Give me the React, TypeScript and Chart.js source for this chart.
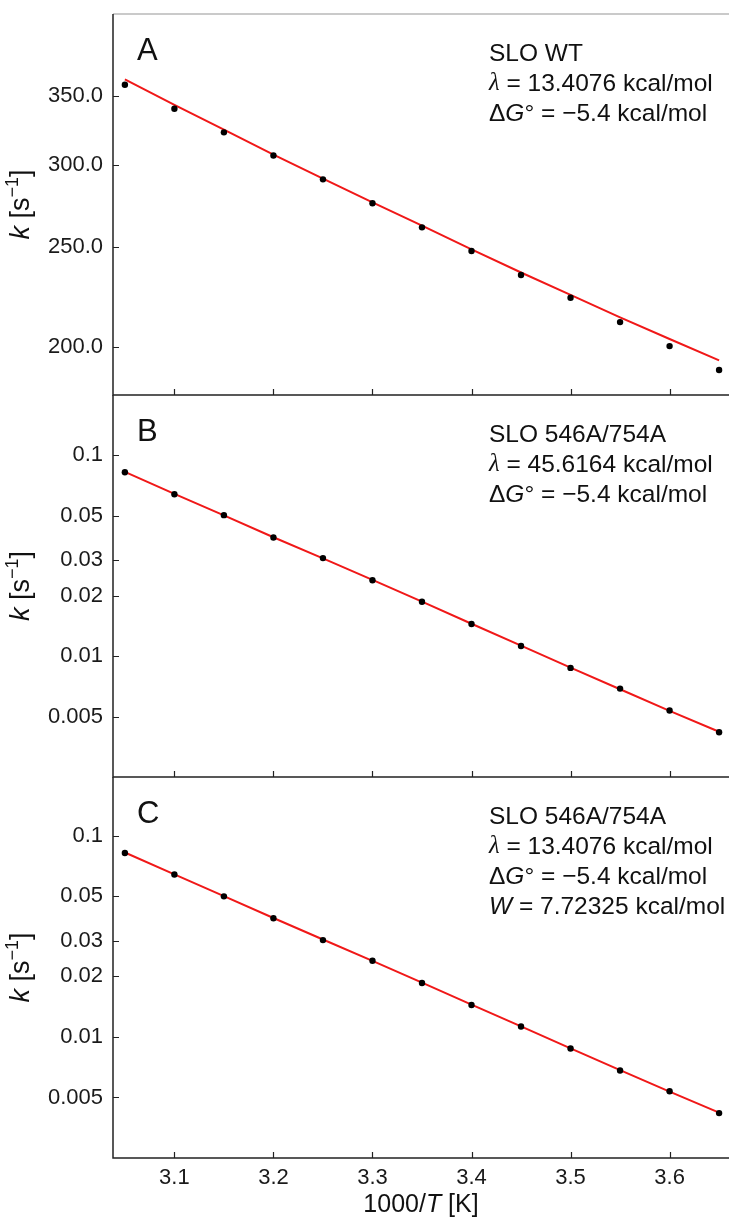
import React, { useEffect, useRef } from "react";
import { Chart, registerables } from "chart.js";

Chart.register(...registerables);

// ---------------- data ----------------
const X_VALUES = [3.05, 3.1, 3.15, 3.2, 3.25, 3.3, 3.35, 3.4, 3.45, 3.5, 3.55, 3.6, 3.65];
const X_TICKS = [3.1, 3.2, 3.3, 3.4, 3.5, 3.6];
const X_TICK_LABELS = ["3.1", "3.2", "3.3", "3.4", "3.5", "3.6"];
const X_MIN = 3.038;
const X_MAX = 3.66;

const A_POINTS = [358.7, 340.0, 322.6, 306.4, 290.5, 275.4, 261.0, 247.6, 234.7, 223.1, 211.3, 200.3, 189.9];
const A_FIT = [363, 343, 324.5, 307, 291, 276, 262, 248.5, 236, 224.5, 213.5, 203.5, 194];
const A_TICKS = [200, 250, 300, 350];
const A_TICK_LABELS = ["200.0", "250.0", "300.0", "350.0"];
const A_RANGE = [179.6, 420];

const B_POINTS = [0.0825, 0.0641, 0.0504, 0.039, 0.0308, 0.0239, 0.01867, 0.01446, 0.01124, 0.00874, 0.00689, 0.00536, 0.00418];
const B_FIT = [0.0828, 0.0643, 0.0503, 0.0391, 0.0307, 0.024, 0.01868, 0.0145, 0.01128, 0.00877, 0.00684, 0.00534, 0.0042];
const C_POINTS = [0.0821, 0.0642, 0.05, 0.0389, 0.0303, 0.0239, 0.01855, 0.01442, 0.01126, 0.00876, 0.00681, 0.00537, 0.00418];
const C_FIT = [0.0826, 0.0643, 0.0501, 0.039, 0.0305, 0.0239, 0.01862, 0.01448, 0.01128, 0.00877, 0.00684, 0.00534, 0.0042];
const BC_TICKS = [0.005, 0.01, 0.02, 0.03, 0.05, 0.1];
const BC_TICK_LABELS = ["0.005", "0.01", "0.02", "0.03", "0.05", "0.1"];
const B_RANGE = [0.0025, 0.2];
const C_RANGE = [0.0025, 0.196];

type Seg = { t: string; it?: boolean; serif?: boolean; sup?: boolean };

const NOTE_A: Seg[][] = [
  [{ t: "SLO WT" }],
  [{ t: "λ", it: true, serif: true }, { t: " = 13.4076 kcal/mol" }],
  [{ t: "Δ" }, { t: "G", it: true }, { t: "° = −5.4 kcal/mol" }],
];
const NOTE_B: Seg[][] = [
  [{ t: "SLO 546A/754A" }],
  [{ t: "λ", it: true, serif: true }, { t: " = 45.6164 kcal/mol" }],
  [{ t: "Δ" }, { t: "G", it: true }, { t: "° = −5.4 kcal/mol" }],
];
const NOTE_C: Seg[][] = [
  [{ t: "SLO 546A/754A" }],
  [{ t: "λ", it: true, serif: true }, { t: " = 13.4076 kcal/mol" }],
  [{ t: "Δ" }, { t: "G", it: true }, { t: "° = −5.4 kcal/mol" }],
  [{ t: "W", it: true }, { t: " = 7.72325 kcal/mol" }],
];
const Y_TITLE: Seg[] = [{ t: "k", it: true }, { t: " [s" }, { t: "−1", sup: true }, { t: "]" }];
const X_TITLE: Seg[] = [{ t: "1000/" }, { t: "T", it: true }, { t: " [K]" }];

// ---------------- drawing helpers ----------------
const SANS = "'Liberation Sans', Arial, Helvetica, sans-serif";
const SERIF = "'Liberation Serif', 'Times New Roman', serif";
const W = 729;
const H = 1218;
const OFF = 60; // canvases start above the page so the top padding is never overridden

function segFont(s: Seg, size: number) {
  const sz = s.sup ? Math.round(size * 0.66) : size;
  return `${s.it ? "italic " : ""}${sz}px ${s.serif ? SERIF : SANS}`;
}
function richWidth(ctx: CanvasRenderingContext2D, segs: Seg[], size: number) {
  let w = 0;
  for (const s of segs) {
    ctx.font = segFont(s, size);
    w += ctx.measureText(s.t).width;
  }
  return w;
}
function drawRich(ctx: CanvasRenderingContext2D, segs: Seg[], x: number, y: number, size: number, baseline: CanvasTextBaseline = "middle") {
  ctx.textAlign = "left";
  ctx.textBaseline = baseline;
  let cx = x;
  for (const s of segs) {
    ctx.font = segFont(s, size);
    const dy = s.sup ? -size * 0.4 : 0;
    ctx.fillText(s.t, cx, y + dy);
    cx += ctx.measureText(s.t).width;
  }
}

type Panel = {
  points: number[];
  fit: number[];
  range: number[];
  ticks: number[];
  tickLabels: string[];
  letter: string;
  note: Seg[][];
  top: number;
  bottom: number;
  showX: boolean;
  grayTop: boolean;
};

const PANELS: Panel[] = [
  { points: A_POINTS, fit: A_FIT, range: A_RANGE, ticks: A_TICKS, tickLabels: A_TICK_LABELS, letter: "A", note: NOTE_A, top: 14, bottom: 395, showX: false, grayTop: true },
  { points: B_POINTS, fit: B_FIT, range: B_RANGE, ticks: BC_TICKS, tickLabels: BC_TICK_LABELS, letter: "B", note: NOTE_B, top: 395, bottom: 777, showX: false, grayTop: false },
  { points: C_POINTS, fit: C_FIT, range: C_RANGE, ticks: BC_TICKS, tickLabels: BC_TICK_LABELS, letter: "C", note: NOTE_C, top: 777, bottom: 1158, showX: true, grayTop: false },
];

function makeChart(canvas: HTMLCanvasElement, p: Panel) {
  const decor = {
    id: "decor" + p.letter,
    afterDraw(chart: any) {
      const ctx: CanvasRenderingContext2D = chart.ctx;
      const a = chart.chartArea;
      const xs = chart.scales.x;
      const ys = chart.scales.y;
      ctx.save();
      if (p.grayTop) {
        ctx.strokeStyle = "#b8b8b8";
        ctx.lineWidth = 1.5;
        ctx.beginPath();
        ctx.moveTo(a.left, a.top);
        ctx.lineTo(a.right, a.top);
        ctx.stroke();
      }
      ctx.strokeStyle = "#222";
      ctx.lineWidth = 1.5;
      ctx.beginPath();
      ctx.moveTo(a.left, a.top);
      ctx.lineTo(a.left, a.bottom);
      ctx.moveTo(a.left - 0.75, a.bottom);
      ctx.lineTo(a.right, a.bottom);
      ctx.stroke();
      // inward ticks
      ctx.lineWidth = 1.2;
      ctx.beginPath();
      for (const v of X_TICKS) {
        const px = Math.round(xs.getPixelForValue(v)) + 0.5;
        ctx.moveTo(px, a.bottom);
        ctx.lineTo(px, a.bottom - 6);
      }
      for (const v of p.ticks) {
        const py = Math.round(ys.getPixelForValue(v)) + 0.5;
        ctx.moveTo(a.left, py);
        ctx.lineTo(a.left + 6, py);
      }
      ctx.stroke();
      // panel letter
      ctx.fillStyle = "#111";
      ctx.font = `31px ${SANS}`;
      ctx.textAlign = "left";
      ctx.textBaseline = "middle";
      ctx.fillText(p.letter, a.left + 24, a.top + 37);
      // annotation block
      p.note.forEach((line, i) => {
        drawRich(ctx, line, a.left + 376, a.top + 40 + i * 30, 24.5);
      });
      // y title (rotated)
      const cy = (a.top + a.bottom) / 2;
      ctx.save();
      ctx.translate(29, cy);
      ctx.rotate(-Math.PI / 2);
      const tw = richWidth(ctx, Y_TITLE, 27);
      drawRich(ctx, Y_TITLE, -tw / 2, 0, 27, "alphabetic");
      ctx.restore();
      // x title
      if (p.showX) {
        const xw = richWidth(ctx, X_TITLE, 25);
        drawRich(ctx, X_TITLE, (a.left + a.right) / 2 - xw / 2, a.bottom + 47, 25);
      }
      ctx.restore();
    },
  };

  return new Chart(canvas, {
    type: "scatter",
    data: {
      datasets: [
        {
          label: "data",
          data: X_VALUES.map((x, i) => ({ x, y: p.points[i] })),
          backgroundColor: "#000",
          borderColor: "#000",
          pointRadius: 3.2,
          pointBorderWidth: 0,
          showLine: false,
          order: 0,
        },
        {
          label: "fit",
          data: X_VALUES.map((x, i) => ({ x, y: p.fit[i] })),
          borderColor: "#f01818",
          borderWidth: 2,
          pointRadius: 0,
          showLine: true,
          tension: 0,
          order: 1,
        },
      ],
    },
    options: {
      animation: false,
      responsive: false,
      maintainAspectRatio: false,
      devicePixelRatio: 1,
      events: [],
      layout: { autoPadding: false, padding: { top: p.top + OFF, bottom: p.showX ? 0 : H - p.bottom, left: 0, right: 0 } },
      plugins: { legend: { display: false }, tooltip: { enabled: false } },
      scales: {
        x: {
          type: "linear",
          min: X_MIN,
          max: X_MAX,
          bounds: "data",
          display: p.showX,
          position: "bottom",
          grid: { display: false, drawTicks: false },
          border: { display: false },
          ticks: {
            autoSkip: false,
            maxRotation: 0,
            padding: 7,
            color: "#1a1a1a",
            font: { family: SANS, size: 22 },
            callback: (_v: any, i: number) => X_TICK_LABELS[i],
          },
          afterBuildTicks: (s: any) => {
            s.ticks = X_TICKS.map((v) => ({ value: v }));
          },
          afterFit: (s: any) => {
            if (p.showX) s.height = H - p.bottom;
          },
        },
        y: {
          type: "logarithmic",
          min: p.range[0],
          max: p.range[1],
          bounds: "data",
          position: "left",
          grid: { display: false, drawTicks: false },
          border: { display: false },
          ticks: {
            autoSkip: false,
            padding: 10,
            color: "#1a1a1a",
            font: { family: SANS, size: 22 },
            callback: (_v: any, i: number) => p.tickLabels[i],
          },
          afterBuildTicks: (s: any) => {
            s.ticks = p.ticks.map((v) => ({ value: v }));
          },
          afterFit: (s: any) => {
            s.width = 113;
          },
        },
      },
    } as any,
    plugins: [decor],
  });
}

export default function App() {
  const r0 = useRef<HTMLCanvasElement>(null);
  const r1 = useRef<HTMLCanvasElement>(null);
  const r2 = useRef<HTMLCanvasElement>(null);

  useEffect(() => {
    const refs = [r0, r1, r2];
    const charts = PANELS.map((p, i) => makeChart(refs[i].current as HTMLCanvasElement, p));
    return () => charts.forEach((c) => c.destroy());
  }, []);

  const cs: React.CSSProperties = { position: "absolute", left: 0, top: -OFF, width: W, height: H + OFF };
  return (
    <div style={{ position: "absolute", left: 0, top: 0, width: W, height: H, background: "#fff", overflow: "hidden" }}>
      <canvas ref={r0} width={W} height={H + OFF} style={cs} />
      <canvas ref={r1} width={W} height={H + OFF} style={cs} />
      <canvas ref={r2} width={W} height={H + OFF} style={cs} />
    </div>
  );
}
